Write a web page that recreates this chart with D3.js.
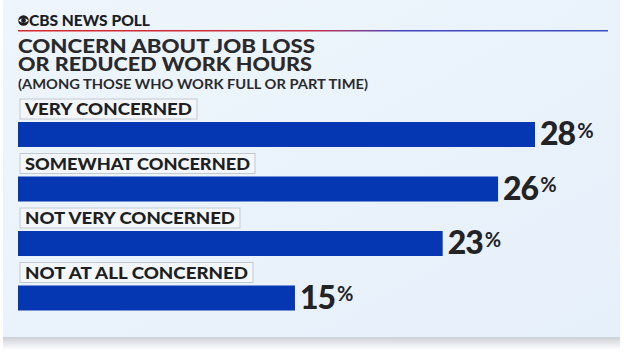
<!DOCTYPE html>
<html>
<head>
<meta charset="utf-8">
<script src="https://cdn.jsdelivr.net/npm/d3@7"></script>
<style>
  html, body { margin: 0; padding: 0; background: #ffffff; }
  svg { display: block; }
  text { font-family: Lato, "Open Sans", "DejaVu Sans", sans-serif; }
</style>
</head>
<body>
<div id="chart"></div>
<script>
// ------------------------------
// DATA
// ------------------------------
const categories = ["VERY CONCERNED", "SOMEWHAT CONCERNED", "NOT VERY CONCERNED", "NOT AT ALL CONCERNED"];
const values = [28, 26, 23, 15];
const titleLines = ["CONCERN ABOUT JOB LOSS", "OR REDUCED WORK HOURS"];
const subtitle = "(AMONG THOSE WHO WORK FULL OR PART TIME)";
const brand = "CBS NEWS POLL";

// ------------------------------
// SIZE
// ------------------------------
const width = 624;
const height = 352;

const svg = d3.select("#chart")
  .append("svg")
  .attr("width", width)
  .attr("height", height);

const defs = svg.append("defs");

// card background gradient
const bg = defs.append("linearGradient").attr("id", "bg")
  .attr("x1", 0).attr("y1", 0).attr("x2", 1).attr("y2", 1);
bg.append("stop").attr("offset", "0%").attr("stop-color", "#eef5fc");
bg.append("stop").attr("offset", "100%").attr("stop-color", "#e6f0fa");

// red -> blue rule under the brand
const rule = defs.append("linearGradient").attr("id", "rule")
  .attr("x1", 0).attr("y1", 0).attr("x2", 1).attr("y2", 0);
rule.append("stop").attr("offset", "0%").attr("stop-color", "#d9262e");
rule.append("stop").attr("offset", "50%").attr("stop-color", "#c8304a");
rule.append("stop").attr("offset", "65%").attr("stop-color", "#4046c0");
rule.append("stop").attr("offset", "100%").attr("stop-color", "#3a4bc4");

// shadow under the card
const sh = defs.append("linearGradient").attr("id", "shadow")
  .attr("x1", 0).attr("y1", 0).attr("x2", 0).attr("y2", 1);
sh.append("stop").attr("offset", "0%").attr("stop-color", "#c9ccd2");
sh.append("stop").attr("offset", "100%").attr("stop-color", "#ffffff");

svg.append("rect").attr("x", 0).attr("y", 0).attr("width", width).attr("height", height).attr("fill", "#ffffff");
svg.append("rect").attr("x", 3).attr("y", 336).attr("width", 617).attr("height", 14).attr("fill", "url(#shadow)");
svg.append("rect").attr("x", 3).attr("y", 0).attr("width", 617).attr("height", 337).attr("fill", "url(#bg)");

// ------------------------------
// HEADER
// ------------------------------
const head = svg.append("g");

// CBS eye
const eye = head.append("g").attr("transform", "translate(23.5,20.5)");
eye.append("circle").attr("r", 5.3).attr("fill", "#1d1d1f");
eye.append("path")
  .attr("d", "M-5,0 Q0,-4.6 5,0 Q0,4.6 -5,0 Z")
  .attr("fill", "#eef5fc");
eye.append("circle").attr("r", 2.4).attr("fill", "#1d1d1f");

head.append("text")
  .attr("x", 29).attr("y", 26)
  .attr("font-size", 15.5).attr("font-weight", 900)
  .attr("fill", "#1d1d1f")
  .attr("textLength", 121).attr("lengthAdjust", "spacingAndGlyphs")
  .text(brand);

head.append("rect")
  .attr("x", 18).attr("y", 30).attr("width", 590).attr("height", 1.5)
  .attr("fill", "url(#rule)");

head.selectAll("text.title")
  .data(titleLines)
  .join("text")
  .attr("class", "title")
  .attr("x", 18)
  .attr("y", (d, i) => 53 + i * 18)
  .attr("font-size", 19.5).attr("font-weight", 900)
  .attr("fill", "#2a2a2c")
  .attr("textLength", (d, i) => i === 0 ? 297 : 294)
  .attr("lengthAdjust", "spacingAndGlyphs")
  .text(d => d);

head.append("text")
  .attr("x", 18).attr("y", 89)
  .attr("font-size", 13.5).attr("font-weight", 700)
  .attr("fill", "#2a2a2c")
  .attr("textLength", 350).attr("lengthAdjust", "spacingAndGlyphs")
  .text(subtitle);

// ------------------------------
// SCALES
// ------------------------------
const x = d3.scaleLinear().domain([0, 28]).range([18, 535]);

const band = d3.scaleBand()
  .domain(categories)
  .range([95, 313])
  .paddingInner(0)
  .paddingOuter(0);

const barH = 25;
const labelOffset = 4;      // top of label box within band
const barOffset = 27;       // top of bar within band

const rows = svg.append("g").selectAll("g.row")
  .data(categories.map((c, i) => ({ cat: c, val: values[i] })))
  .join("g")
  .attr("class", "row")
  .attr("transform", d => `translate(0,${band(d.cat)})`);

// category label boxes
const labelW = { "VERY CONCERNED": 177, "SOMEWHAT CONCERNED": 235, "NOT VERY CONCERNED": 220, "NOT AT ALL CONCERNED": 233 };

rows.append("rect")
  .attr("x", 20).attr("y", labelOffset)
  .attr("width", d => labelW[d.cat]).attr("height", 20)
  .attr("fill", "#f3f7fb")
  .attr("stroke", "#c3c9d1").attr("stroke-width", 1);

rows.append("text")
  .attr("x", 25).attr("y", labelOffset + 16)
  .attr("font-size", 16.5).attr("font-weight", 900)
  .attr("fill", "#1f1f21")
  .attr("textLength", d => labelW[d.cat] - 10)
  .attr("lengthAdjust", "spacingAndGlyphs")
  .text(d => d.cat);

// bars
rows.append("rect")
  .attr("x", x(0)).attr("y", barOffset)
  .attr("width", d => x(d.val) - x(0))
  .attr("height", barH)
  .attr("fill", "#0637b2");

// value labels
const vt = rows.append("text")
  .attr("x", d => x(d.val) + 5)
  .attr("y", barOffset + 23)
  .attr("fill", "#232325")
  .attr("font-weight", 900);

vt.append("tspan")
  .attr("font-size", 32)
  .attr("letter-spacing", -1)
  .text(d => d.val);

vt.append("tspan")
  .attr("dx", 2)
  .attr("dy", -7.5)
  .attr("font-size", 20)
  .attr("font-weight", 700)
  .text("%");
</script>
</body>
</html>
